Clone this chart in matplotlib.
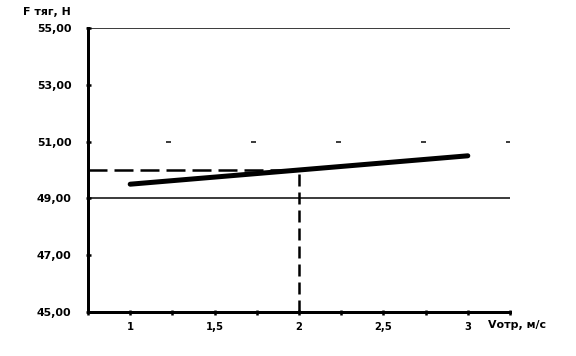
import numpy as np
import matplotlib.pyplot as plt

# скорость, м/с и тяговое усилие, Н
v_otr = [1, 1.5, 2, 2.5, 3]
f_tyag = [49.5, 49.75, 50.0, 50.25, 50.5]
v_ref = 2
f_ref = 50.0

y_ticks = [45, 47, 49, 51, 53, 55]
y_labels = ['45,00', '47,00', '49,00', '51,00', '53,00', '55,00']
x_ticks = [0.75, 1, 1.25, 1.5, 1.75, 2, 2.25, 2.5, 2.75, 3, 3.25]
x_labels = ['', '1', '', '1,5', '', '2', '', '2,5', '', '3', '']

plt.rcParams['font.family'] = ['DejaVu Sans']
plt.rcParams['lines.scale_dashes'] = False
fig = plt.figure(figsize=(8, 356 / 72), dpi=72)
ax = fig.add_axes([88 / 576, 1 - 312 / 356, (510 - 88) / 576, (312 - 28) / 356])

# линии сетки
ax.axhline(55, color='black', lw=1.5, zorder=1)
ax.axhline(49, color='black', lw=1.5, zorder=1)
ax.axhline(51, color='black', lw=1.5, linestyle=(7, (5, 80)), zorder=1)

ax.plot(v_otr, f_tyag, color='black', lw=5, solid_capstyle='round', zorder=3)
ax.plot([0.75, v_ref], [f_ref, f_ref], color='black', lw=2.5, linestyle=(0, (19, 7)), zorder=2)
ax.plot([v_ref, v_ref], [45, f_ref], color='black', lw=2.5, linestyle=(0, (12, 6)), zorder=2)

ax.set_xlim(0.75, 3.25)
ax.set_ylim(45, 55)
ax.set_xticks(x_ticks)
ax.set_xticklabels(x_labels, fontsize=10, fontweight='bold')
ax.set_yticks(y_ticks)
ax.set_yticklabels(y_labels, fontsize=11, fontweight='bold')
ax.tick_params(axis='both', length=5, width=2.5, direction='inout', pad=7)
ax.tick_params(axis='y', pad=14)

for s in ['top', 'right']:
    ax.spines[s].set_visible(False)
ax.spines['left'].set_linewidth(3)
ax.spines['bottom'].set_linewidth(3)

fig.text(23 / 576, 1 - 12 / 356, 'F тяг, Н', fontsize=11, fontweight='bold', va='center')
fig.text(488 / 576, 1 - 325 / 356, 'Vотр, м/с', fontsize=11, fontweight='bold', va='center')

fig.savefig('out.png', dpi=72)
